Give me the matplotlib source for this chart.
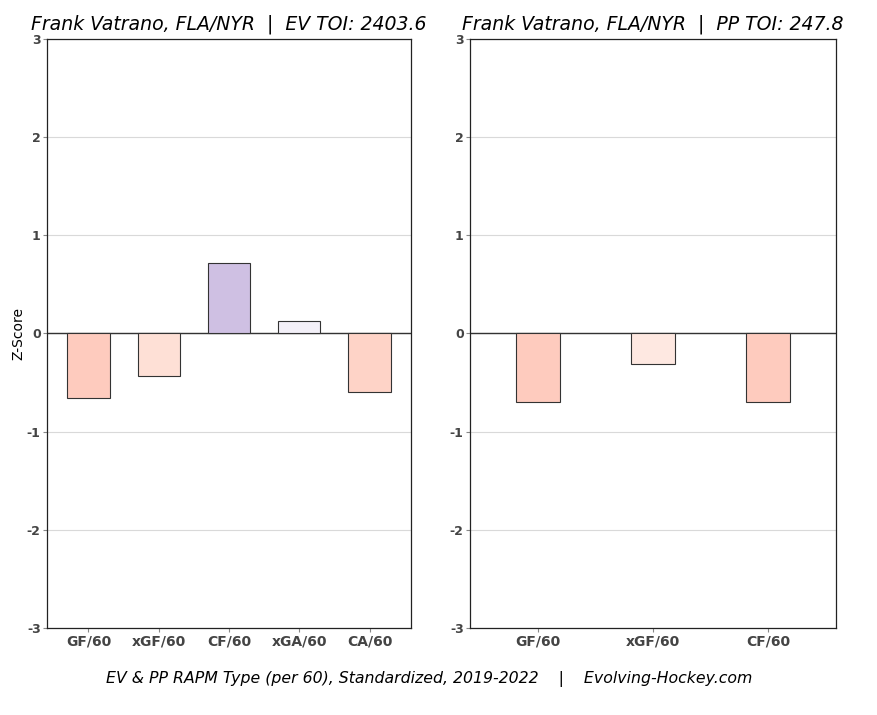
import matplotlib
matplotlib.use('Agg')
import matplotlib.pyplot as plt

plt.rcParams['axes.unicode_minus'] = False

ev_labels = ['GF/60', 'xGF/60', 'CF/60', 'xGA/60', 'CA/60']
ev_values = [-0.66, -0.43, 0.72, 0.13, -0.60]
ev_colors = ['#fecbbe', '#fee0d6', '#cfc0e3', '#f3f0f8', '#fed3c7']

pp_labels = ['GF/60', 'xGF/60', 'CF/60']
pp_values = [-0.70, -0.31, -0.70]
pp_colors = ['#fecbbe', '#fee8e1', '#fecbbe']

fig = plt.figure(figsize=(8.78, 7.15), dpi=100)
ax1 = fig.add_axes([0.0535, 0.1217, 0.4146, 0.8238])
ax2 = fig.add_axes([0.5353, 0.1217, 0.4169, 0.8238])

def draw(ax, labels, values, colors, width, title):
    x = range(len(labels))
    ax.set_axisbelow(True)
    ax.grid(axis='y', color='#d9d9d9', linewidth=0.8)
    ax.axhline(0, color='#333333', linewidth=1.0, zorder=1)
    ax.bar(x, values, width=width, color=colors, edgecolor='#333333',
           linewidth=0.8, zorder=2)
    ax.set_ylim(-3, 3)
    ax.set_yticks([-3, -2, -1, 0, 1, 2, 3])
    ax.set_xticks(list(x))
    ax.set_xticklabels(labels)
    ax.set_xlim(-0.59, len(labels) - 0.41)
    ax.tick_params(axis='both', colors='#888888', labelcolor='#444444',
                   length=3, width=0.8, pad=1.5)
    for lab in ax.get_xticklabels():
        lab.set_fontweight('bold')
        lab.set_fontsize(10)
    for lab in ax.get_yticklabels():
        lab.set_fontweight('bold')
        lab.set_fontsize(9)
    for s in ax.spines.values():
        s.set_color('#222222')
        s.set_linewidth(0.9)
    ax.set_title(title, fontsize=13.6, style='italic', pad=7)

draw(ax1, ev_labels, ev_values, ev_colors, 0.6,
     'Frank Vatrano, FLA/NYR  |  EV TOI: 2403.6')
draw(ax2, pp_labels, pp_values, pp_colors, 0.38,
     'Frank Vatrano, FLA/NYR  |  PP TOI: 247.8')
ax1.set_ylabel('Z-Score', fontsize=10, labelpad=1)

fig.text(0.489, 0.051, 'EV & PP RAPM Type (per 60), Standardized, 2019-2022    |    Evolving-Hockey.com',
         ha='center', va='center', fontsize=11.3, style='italic')

fig.savefig('out.png', dpi=100)
